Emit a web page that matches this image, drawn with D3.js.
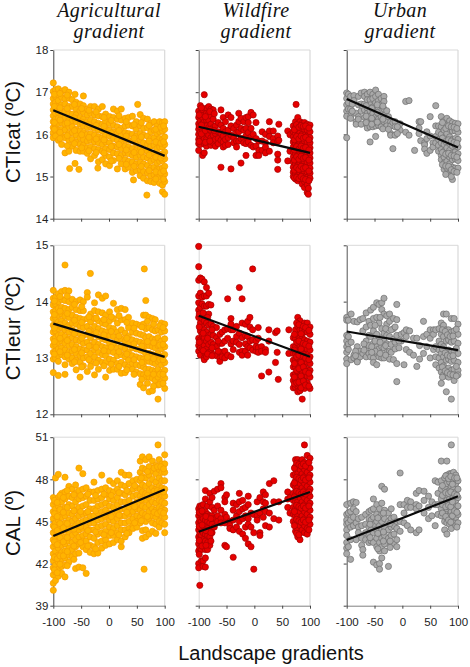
<!DOCTYPE html>
<html><head><meta charset="utf-8">
<script src="https://cdn.jsdelivr.net/npm/d3@7"></script>
<style>html,body{margin:0;padding:0;background:#fff}svg{display:block}</style></head>
<body><svg id="c" width="470" height="667"></svg>
<script>
const gradientNames=[["Agricultural","gradient"],["Wildfire","gradient"],["Urban","gradient"]];
const rowLabels=["CTIcat (ºC)","CTIeur (ºC)","CAL (º)"];
const xTicks=[-100,-50,0,50,100];
const yDomains=[[14,18],[12,15],[39,51]];
const yTicks=[[14,15,16,17,18],[12,13,14,15],[39,42,45,48,51]];
// regression line end values (x=-100, x=100) per row, per column
const fitCat=[[16.57,15.49],[16.18,15.56],[16.84,15.69]];
const fitEur=[[13.61,13.02],[13.75,13.02],[13.47,13.14]];
const fitCal=[[43.96,47.28],[44.27,47.1],[43.68,46.8]];

// points: [x,[y,y,...]]
const agrCat=[[-100,[17.22,17.02,16.85,16.72,16.58,16.44,16.3,16.16,16.04,15.92]],[-96,[17.06,16.9,16.76,16.6,16.5,16.36,16.22,16.08,15.96]],[-91,[17.08,16.94,16.8,16.66,16.52,16.38,16.26,16.1,15.86]],[-85,[17.02,16.88,16.7,16.56,16.42,16.28,16.12,15.96,15.76]],[-79,[17.06,16.84,16.72,16.54,16.4,16.24,16.1,15.92,15.56]],[-72,[17.0,16.86,16.66,16.5,16.34,16.18,16.02,15.86,15.6]],[-66,[16.82,16.66,16.48,16.32,16.18,16.04,15.88,15.72]],[-59,[16.76,16.6,16.46,16.3,16.12,15.98,15.82,15.62]],[-52,[16.72,16.56,16.4,16.24,16.08,15.92,15.76,15.6]],[-46,[16.68,16.52,16.36,16.2,16.04,15.88,15.74,15.6]],[-39,[16.6,16.46,16.3,16.16,16.0,15.84,15.68,15.55]],[-33,[16.66,16.5,16.34,16.18,16.02,15.86,15.7,15.42]],[-26,[16.66,16.46,16.3,16.14,15.98,15.82,15.66,15.5]],[-19,[16.6,16.44,16.26,16.1,15.94,15.8,15.64,15.35]],[-12,[16.66,16.42,16.24,16.08,15.92,15.76,15.6,15.4]],[-6,[16.48,16.3,16.14,15.98,15.82,15.66,15.5,15.3]],[1,[16.42,16.26,16.1,15.96,15.8,15.64,15.46,15.26]],[8,[16.6,16.4,16.22,16.06,15.9,15.72,15.56,15.38]],[15,[16.55,16.36,16.18,16.02,15.86,15.7,15.54,15.18]],[22,[16.6,16.34,16.14,15.98,15.82,15.66,15.5,15.3]],[29,[16.38,16.2,16.04,15.88,15.72,15.56,15.4,15.18]],[35,[16.4,16.22,16.02,15.86,15.7,15.54,15.36,15.22]],[42,[16.43,16.2,16.0,15.84,15.66,15.5,15.34,15.1]],[49,[16.3,16.12,15.96,15.78,15.62,15.46,15.3,15.14]],[56,[16.47,16.2,16.02,15.86,15.68,15.5,15.34,15.16,15.02]],[62,[16.38,16.14,15.98,15.8,15.62,15.46,15.3,15.12,14.96]],[69,[16.36,16.16,15.96,15.76,15.6,15.44,15.26,15.08,14.9]],[75,[16.26,16.06,15.9,15.72,15.54,15.36,15.2,15.02,14.88]],[81,[16.3,16.1,15.92,15.74,15.56,15.4,15.22,15.04,14.86]],[86,[16.2,16.02,15.84,15.66,15.5,15.32,15.16,14.98]],[91,[16.3,16.06,15.9,15.7,15.52,15.36,15.18,15.0,14.84]],[96,[16.28,16.08,15.88,15.7,15.54,15.38,15.2,15.04,14.8,14.64]],[100,[16.3,16.12,15.94,15.76,15.58,15.42,15.24,15.06,14.88,14.58]],[-70.6,[15.19]],[-61,[15.31,16.95]],[-54,[15.17]],[-46,[16.91]],[-20,[15.2]],[51.5,[16.71]],[44,[14.92]],[68,[14.56]]];
const agrCatMore=[[-98,[16.95,16.66,16.28,16.12]],[-88,[16.97,16.63,16.34,16.05,15.9]],[-75,[16.93,16.61,16.27,15.97,15.73]],[-62,[16.71,16.39,16.09,15.78]],[-49,[16.61,16.29,15.99,15.68]],[-36,[16.57,16.23,15.93,15.61]],[-23,[16.53,16.21,15.89,15.57]],[-9,[16.4,16.19,15.87,15.56]],[4,[16.33,16.03,15.71,15.37]],[18,[16.44,16.09,15.76,15.43]],[31,[16.3,15.96,15.63,15.29]],[45,[16.23,15.91,15.57,15.24]],[58,[16.28,15.94,15.58,15.24]],[72,[16.21,15.84,15.51,15.14]],[84,[16.12,15.82,15.46,15.11,14.94]],[93,[16.17,15.79,15.44,15.09]],[98,[16.2,15.82,15.5,15.13,14.94]]];

const agrEur=[[-100,[14.2,14.06,13.94,13.82,13.7,13.58,13.46,13.34,13.22,13.1,12.98,12.74]],[-96,[14.08,13.96,13.84,13.72,13.6,13.48,13.36,13.24,13.12,13.0]],[-91,[14.14,14.0,13.88,13.76,13.64,13.52,13.4,13.28,13.16,13.04,12.94,12.69]],[-85,[14.18,14.04,13.9,13.78,13.66,13.54,13.42,13.3,13.18,13.06]],[-79,[14.2,14.02,13.88,13.74,13.62,13.5,13.38,13.26,13.14,13.02,12.88,12.71]],[-72,[14.19,14.0,13.86,13.72,13.58,13.46,13.34,13.22,13.1,12.98]],[-66,[14.04,13.9,13.76,13.62,13.5,13.36,13.24,13.12,13.0,12.9]],[-59,[14.0,13.86,13.72,13.6,13.46,13.32,13.2,13.08,12.96,12.79]],[-52,[14.03,13.84,13.7,13.56,13.42,13.3,13.16,13.04,12.92,12.66]],[-46,[14.0,13.84,13.68,13.54,13.4,13.26,13.14,13.0,12.86]],[-39,[14.16,14.08,13.7,13.56,13.42,13.28,13.14,13.02,12.76]],[-33,[13.78,13.64,13.5,13.36,13.22,13.08,12.94,12.85]],[-26,[13.98,13.84,13.7,13.56,13.42,13.28,13.14,13.02,12.7]],[-19,[14.12,13.82,13.66,13.52,13.38,13.24,13.1,12.96,12.8]],[-12,[14.06,13.8,13.62,13.48,13.34,13.2,13.06,12.92]],[-6,[14.1,13.76,13.6,13.46,13.32,13.18,13.04,12.92,12.66]],[1,[13.82,13.66,13.54,13.4,13.26,13.12,12.98,12.78]],[8,[13.97,13.7,13.52,13.38,13.24,13.1,12.96,12.8]],[15,[13.86,13.62,13.46,13.32,13.18,13.04,12.9,12.8]],[22,[13.88,13.68,13.5,13.34,13.2,13.06,12.92,12.73]],[29,[13.86,13.68,13.44,13.3,13.16,13.02,12.88,12.74]],[35,[13.72,13.54,13.38,13.24,13.1,12.96,12.84]],[42,[13.62,13.46,13.32,13.18,13.04,12.9,12.8]],[49,[13.6,13.44,13.3,13.16,13.02,12.88,12.75]],[56,[13.58,13.42,13.28,13.14,13.0,12.86,12.72,12.53]],[62,[13.76,13.6,13.4,13.26,13.12,12.98,12.84,12.7,12.47]],[66,[14.02,13.76,13.52,13.36,13.22,13.08,12.94,12.8,12.66]],[72,[13.72,13.54,13.38,13.22,13.08,12.94,12.8,12.66,12.4]],[78,[13.7,13.5,13.34,13.2,13.06,12.92,12.78,12.64,12.42]],[83,[13.68,13.48,13.32,13.18,13.04,12.9,12.76,12.6]],[88,[13.5,13.36,13.22,13.08,12.94,12.8,12.66,12.52,12.27]],[94,[13.62,13.46,13.3,13.16,13.02,12.88,12.74,12.58]],[100,[13.6,13.48,13.34,13.2,13.06,12.92,12.78,12.64,12.46]],[-79,[14.65]],[-33.5,[14.5]],[63.4,[14.58]]];
const agrEurMore=[[-98,[14.01,13.77,13.53,13.29,13.07]],[-88,[14.09,13.83,13.59,13.35,13.11]],[-75,[14.1,13.79,13.55,13.31,13.05]],[-62,[13.95,13.67,13.43,13.15,12.93]],[-49,[13.91,13.63,13.35,13.09,12.84]],[-36,[13.73,13.47,13.21,12.97]],[-23,[13.71,13.45,13.19,12.91]],[-9,[13.68,13.41,13.13,12.86]],[4,[13.73,13.47,13.19,12.89]],[18,[13.75,13.39,13.11,12.85]],[32,[13.63,13.35,13.07,12.79]],[45,[13.53,13.25,12.97,12.71]],[59,[13.55,13.21,12.92,12.62]],[69,[13.65,13.29,13.01,12.73,12.55]],[80,[13.6,13.27,12.99,12.71,12.5]],[91,[13.57,13.23,12.97,12.71,12.53]],[97,[13.54,13.24,12.97,12.71,12.55]]];

const agrCal=[[-100,[46.7,46.2,45.7,45.2,44.7,44.2,43.7,43.2,42.7,42.2,41.7,41.2,40.6,40.1]],[-96,[46.4,45.9,45.4,44.9,44.4,43.9,43.4,42.9,42.4,41.9,41.4,40.8,48.1]],[-91,[46.7,46.1,45.6,45.1,44.6,44.1,43.6,43.1,42.6,42.1,41.6,41.1,48.35]],[-85,[47.0,46.4,45.8,45.3,44.8,44.3,43.8,43.3,42.8,42.3,41.8,41.3]],[-79,[47.1,46.6,46.0,45.4,44.9,44.4,43.9,43.4,42.9,42.4,41.9,41.05,48.15]],[-72,[47.5,46.8,46.2,45.6,45.1,44.6,44.1,43.6,43.1,42.6,42.1]],[-66,[47.3,46.7,46.1,45.5,45.0,44.5,44.0,43.5,43.0,42.5]],[-60,[47.6,47.0,46.4,45.8,45.2,44.7,44.2,43.7,43.2,42.7,41.65]],[-54,[47.2,46.6,46.0,45.4,44.9,44.4,43.9,43.4,42.75,41.75,48.8]],[-47,[47.3,46.7,46.1,45.5,45.0,44.5,44.0,43.6,43.2,41.7,48.4]],[-41,[47.4,46.8,46.2,45.6,45.1,44.6,44.1,43.6,43.0,41.3]],[-34,[47.1,46.5,45.9,45.4,44.9,44.4,43.9,43.3,42.8]],[-27,[47.8,47.1,46.5,45.9,45.4,44.9,44.4,43.8,43.2,42.7]],[-20,[47.2,46.6,46.1,45.6,45.1,44.6,44.1,43.5,42.75]],[-13,[48.3,47.3,46.7,46.2,45.7,45.2,44.7,44.2,43.6,43.1]],[-6,[47.4,46.9,46.3,45.8,45.3,44.8,44.3,43.7,43.3]],[1,[47.9,47.2,46.6,46.1,45.6,45.1,44.6,44.0,43.4]],[8,[47.7,47.1,46.5,46.0,45.5,45.0,44.5,44.0,43.5]],[15,[47.9,47.3,46.7,46.2,45.7,45.2,44.7,44.2,43.7]],[22,[48.5,47.6,47.0,46.4,45.9,45.4,44.9,44.4,43.2,43.6]],[29,[48.3,47.5,46.9,46.4,45.9,45.4,44.9,44.4,43.9]],[36,[48.3,47.7,47.1,46.5,46.0,45.5,45.0,44.5,44.2]],[43,[47.9,47.3,46.8,46.2,45.7,45.2,44.7,44.5]],[50,[48.0,47.4,46.9,46.4,45.9,45.4,45.0,44.6]],[56,[49.3,48.5,47.9,47.3,46.8,46.3,45.8,45.3,44.9]],[60,[49.6,48.8,48.2,47.6,47.1,46.6,46.1,45.6,45.1,44.35,43.8]],[66,[49.4,48.7,48.1,47.5,47.0,46.5,46.0,45.5,45.0,44.4,43.9]],[72,[49.6,48.9,48.3,47.7,47.2,46.7,46.2,45.7,45.2,44.1]],[78,[49.3,48.6,48.0,47.4,46.9,46.4,45.9,45.4,44.9,44.3]],[84,[49.0,48.4,47.8,47.3,46.8,46.3,45.8,45.3,44.8,44.15]],[90,[49.4,48.7,48.1,47.5,47.0,46.5,46.0,45.5,45.0,44.6]],[95,[49.1,48.5,47.9,47.4,46.9,46.4,45.9,45.4,44.9]],[100,[49.75,49.1,48.5,47.9,47.3,46.8,46.3,45.8,45.3,44.8,44.2]],[63,[41.6]],[88,[50.45]]];
const agrCalMore=[[-98,[46.5,45.55,44.6,43.55,42.45,41.55]],[-93,[46.35,45.35,44.35,43.35,42.35,41.35]],[-88,[46.85,45.85,44.85,43.85,42.55,41.95]],[-82,[46.7,45.65,44.55,43.55,42.55]],[-75,[47.2,46.0,44.85,43.85,42.85,41.85]],[-63,[46.9,45.75,44.45,43.25,42.3]],[-51,[46.85,45.7,44.65,43.5]],[-38,[46.95,45.7,44.35,43.25]],[-24,[46.85,45.75,44.25,43.05]],[-9,[46.95,45.45,44.05]],[4,[46.85,45.35,44.2]],[18,[47.05,45.45,44.05]],[32,[47.2,45.65,44.15]],[46,[47.55,46.05,44.9]],[58,[48.1,46.55,45.05]],[69,[48.55,46.85,45.35]],[81,[48.8,47.15,45.65]],[87,[48.9,47.2,45.55]],[93,[48.9,47.15,45.7]],[98,[48.75,47.1,45.6]]];

const wildCat=[[-100,[16.55,16.4,16.25,16.12,16.0,15.88,15.78,15.62]],[-97,[16.68,16.5,16.32,16.18,16.05,15.92,15.76]],[-93,[16.58,16.4,16.26,16.1,15.96,15.84,15.5]],[-90,[16.94,16.46,16.3,16.16,16.02,15.9,15.78,15.56]],[-86,[16.62,16.5,16.34,16.2,16.04,15.88,15.72]],[-82,[16.66,16.5,16.34,16.16,15.98,15.82]],[-78,[16.6,16.44,16.24,16.08,15.92,15.74]],[-74,[16.58,16.36,16.16,15.98,15.8]],[-70,[16.2,16.02,15.88,15.72]],[-65,[16.28,16.06,15.9,15.78]],[-60,[16.58,16.22,16.02,15.86,15.22]],[-56,[16.4,16.14,15.96,15.82,15.7]],[-52,[16.3,16.06,15.88,15.74]],[-47,[16.46,16.1,15.92,15.76]],[-42,[16.4,16.2,15.98,15.18]],[-37,[16.14,15.92,15.8]],[-32,[16.22,16.04,15.84,15.7]],[-28,[16.5,16.3,16.06,15.84]],[-24,[16.38,16.14,15.9,15.32]],[-19,[16.3,16.1,15.9,15.8]],[-15,[16.4,16.14,15.96,15.78,15.5]],[-11,[16.42,16.28,16.04,15.82]],[-6,[16.52,16.14,15.94,15.74]],[-2,[16.46,16.0,15.7]],[3,[16.28,15.9,15.72,15.5]],[8,[15.84,15.62,15.5]],[14,[16.06,15.84,15.62]],[20,[16.0,15.8,15.7,15.56]],[27,[16.3,16.08,15.95,15.6]],[34,[16.08,15.9,15.8]],[42,[15.96,15.83,15.53,15.39,15.17]],[44,[16.24,15.86]],[60,[16.08,15.37]],[64,[15.99,15.6]],[75,[16.71]],[70,[16.2,16.06,15.94,15.82,15.7,15.58,15.46,15.34,15.22,15.1,15.0]],[74,[16.3,16.16,16.02,15.9,15.78,15.66,15.54,15.42,15.3,15.18,15.06,14.94]],[78,[16.4,16.24,16.1,15.98,15.86,15.74,15.62,15.5,15.38,15.26,15.14,15.02,14.9]],[82,[16.3,16.18,16.04,15.92,15.8,15.68,15.56,15.44,15.32,15.2,15.08,14.98]],[86,[16.26,16.14,16.0,15.88,15.76,15.64,15.52,15.4,15.28,15.16,15.04,14.92,14.82]],[90,[16.28,16.12,15.98,15.84,15.72,15.6,15.48,15.36,15.24,15.12,15.0,14.88,14.74]],[95,[16.24,16.1,15.96,15.82,15.7,15.58,15.46,15.34,15.22,15.1,14.98,14.8,14.62]],[100,[16.22,16.06,15.92,15.8,15.68,15.56,15.44,15.32,15.2,15.08,14.96]],[97,[14.72,14.58]]];
const wildCatMore=[[72,[16.11,15.87,15.63,15.39,15.15,14.97]],[76,[16.23,15.95,15.71,15.47,15.21,14.98]],[80,[16.17,15.89,15.65,15.41,15.17,14.95]],[84,[16.21,15.96,15.72,15.48,15.24,15.0]],[88,[16.19,15.91,15.67,15.43,15.19,14.95]],[92,[16.2,15.93,15.69,15.45,15.21,14.93]],[98,[16.15,15.87,15.63,15.39,15.13,14.9]],[-99,[16.46,16.19,15.83]],[-95,[16.63,16.22,16.01]],[-88,[16.42,16.09,15.81]],[-80,[16.54,16.12,15.84]],[-72,[16.49,16.09]]];

const wildEur=[[-100,[14.98,14.62,14.38,14.1,13.98,13.85,13.72,13.35,13.22,13.12]],[-97,[14.42,14.15,13.9,13.76,13.62,13.48,13.32,13.18,13.05]],[-94,[14.4,14.08,13.96,13.7,13.55,13.42,13.3,13.15]],[-90,[14.35,14.1,13.92,13.66,13.5,13.36,13.22,13.1,13.0,12.97]],[-86,[14.25,14.1,13.92,13.76,13.62,13.46,13.3,13.16,13.02]],[-82,[14.15,13.95,13.78,13.58,13.4,13.24,13.1]],[-78,[13.94,13.6,13.42,13.28,13.12]],[-74,[13.56,13.4,13.24,13.06]],[-68,[13.54,13.36,13.2,13.04]],[-62,[13.42,13.26,13.1,13.0,12.94]],[-58,[13.46,13.26,13.1,13.02]],[-53,[13.5,13.3,13.12,13.0]],[-48,[14.05,13.52,13.35,13.05]],[-42,[13.7,13.6,13.5,13.25,13.02]],[-38,[13.5,13.3,13.15]],[-32,[13.56,13.38,13.28]],[-27,[14.25,13.44,13.24,13.1]],[-22,[14.05,13.62,13.36,13.12,13.05]],[-16,[13.6,13.4,13.25,13.12]],[-12,[13.65,13.38,13.2,13.05]],[-8,[13.72,13.55,13.3,13.18]],[-3,[14.58,13.5,13.32,13.14]],[3,[13.3,13.12,13.2]],[7,[13.54,13.35,13.18,13.1]],[13,[13.2,13.12,12.68]],[20,[13.15,13.1]],[26,[13.5,13.3,12.75]],[38,[13.45,12.92]],[41,[13.48,13.1]],[43,[12.62]],[62,[13.5,13.08]],[70,[13.36,13.2,13.08,12.96,12.84,12.7,12.6,12.47]],[74,[13.5,13.34,13.2,13.08,12.96,12.84,12.72,12.6,12.48]],[78,[13.72,13.56,13.4,13.26,13.12,13.0,12.88,12.76,12.64,12.5,12.4]],[82,[13.66,13.5,13.36,13.22,13.1,12.98,12.86,12.74,12.62,12.5,12.42]],[86,[13.5,13.36,13.24,13.12,13.0,12.88,12.76,12.64,12.52,12.27]],[90,[13.62,13.46,13.32,13.18,13.06,12.94,12.82,12.7,12.58,12.46]],[95,[13.62,13.46,13.3,13.16,13.04,12.92,12.8,12.68,12.56]],[100,[13.55,13.42,13.28,13.14,13.02,12.9,12.78,12.66,12.46]]];
const wildEurMore=[[72,[13.42,13.14,12.9,12.66,12.54]],[76,[13.62,13.28,13.02,12.78,12.56]],[80,[13.59,13.3,13.05,12.81,12.57]],[84,[13.43,13.16,12.92,12.68,12.47]],[88,[13.56,13.26,13.03,12.84,12.59]],[92,[13.54,13.24,13.0,12.76,12.52]],[98,[13.49,13.21,12.97,12.73,12.5]],[-99,[13.78,13.55,13.28]],[-92,[13.8,13.44,13.13]],[-84,[13.72,13.35,13.07]],[-76,[13.5,13.18,13.04]],[-65,[13.3,13.12]]];

const wildCal=[[-100,[45.9,45.4,44.9,44.4,43.9,43.4,42.9,42.0,41.7]],[-98,[46.1,45.6,45.1,44.6,44.1,43.6,43.1,40.45]],[-95,[46.1,45.5,45.0,44.5,44.0,43.5,43.0,42.2]],[-92,[46.2,45.7,45.2,44.7,44.2,43.7,42.2,41.8]],[-88,[47.2,46.6,45.7,45.1,44.6,44.1,43.6,43.0,42.4,41.75]],[-84,[46.1,45.5,45.0,44.5,44.0,43.5,43.0]],[-80,[47.0,46.4,45.4,44.9,44.4,43.9,43.3]],[-76,[46.7,46.0,45.4,44.8,44.2]],[-72,[47.15,45.8,45.2,44.6]],[-66,[47.3,46.1,45.4,45.0]],[-60,[47.7,47.4,45.8,45.2,44.9]],[-53,[46.7,46.4,45.5,44.9,43.3]],[-50,[46.9,45.3,43.2]],[-44,[45.0,44.7,44.5]],[-38,[46.3,45.8,45.1,44.4,42.45]],[-32,[46.2,45.4,44.6]],[-27,[47.0,46.4,45.7,45.0,44.3]],[-21,[46.5,45.9,45.2,44.1]],[-16,[46.0,45.4,44.6,43.8]],[-11,[46.8,46.2,45.2,44.8,43.4]],[-6,[45.6,44.6,43.2]],[-1,[41.6,45.5,44.2]],[5,[46.4,45.4,45.1]],[10,[46.7,45.6,44.2,44.0]],[16,[47.1,46.4,45.9,45.3]],[20,[46.9,46.3,45.7,44.7]],[27,[47.7,45.6,44.6]],[35,[47.9,46.4,45.2]],[44,[46.4,45.1]],[60,[47.1,46.6,46.0]],[64,[46.7,45.6]],[70,[48.3,47.6,47.0,46.5,46.0,45.5,45.0]],[74,[49.4,48.9,48.4,47.9,47.4,46.9,46.4,45.9,45.4,44.9,44.3]],[78,[49.4,48.9,48.4,47.9,47.4,46.9,46.4,45.9,45.4,44.9,44.4,43.9]],[82,[49.2,48.7,48.2,47.7,47.2,46.7,46.2,45.7,45.2,44.7,44.2,43.7]],[86,[49.4,48.9,48.4,47.9,47.4,46.9,46.4,45.9,45.4,44.9,44.4]],[90,[50.45,49.2,48.7,48.2,47.7,47.2,46.7,46.2,45.7,45.2,44.7,44.2]],[95,[49.7,49.0,48.5,48.0,47.5,47.0,46.5,46.0,45.5,45.0,44.5,44.1]],[100,[49.5,48.8,48.3,47.8,47.3,46.8,46.3,45.8,45.3,44.8]]];
const wildCalMore=[[72,[48.8,47.75,46.75,45.7,44.7]],[76,[49.15,48.15,47.15,46.15,45.15,44.15]],[80,[49.05,48.05,47.05,46.05,45.05,44.05]],[84,[48.95,47.95,46.95,45.95,44.95]],[88,[49.1,48.1,47.1,46.1,45.1]],[92,[48.95,47.95,46.95,45.95,44.95]],[98,[49.2,48.1,47.1,46.1,45.1,44.4]],[-99,[45.65,44.65,43.65,42.65]],[-94,[45.75,44.75,43.25]],[-87,[45.35,44.35,43.3]],[-78,[45.2,44.2,43.6]]];

const urbCat=[[-100,[16.98,16.85,16.7,16.55,16.43,15.92]],[-97,[16.95,16.75,16.6]],[-93,[16.9,16.6,16.42,16.38]],[-87,[16.92,16.8]],[-83,[16.5,16.3,16.24]],[-79,[16.9,16.7,16.42,16.36]],[-74,[16.98,16.72,16.55,16.24]],[-68,[17.0,16.9,16.72,16.58,16.4]],[-63,[16.95,16.82,16.62,16.5,16.35,16.22,16.15]],[-58,[17.0,16.82,16.7,16.56,16.42,16.18,15.82]],[-53,[16.95,16.85,16.65,16.5,16.3,16.18]],[-48,[17.05,16.9,16.75,16.58,16.42,16.3,16.2,15.95]],[-43,[16.95,16.8,16.62,16.48,16.36,16.22]],[-38,[16.85,16.7,16.55,16.42,16.28,16.18]],[-33,[16.9,16.78,16.6,16.45,16.3]],[-28,[16.56,16.3,16.2]],[-21,[16.3,16.2,16.02,15.98]],[-17,[16.28,15.66]],[-13,[16.3,16.18,15.98]],[-4,[16.25,16.1]],[6,[16.78,16.05]],[12,[16.8,15.98]],[22,[15.62]],[30,[16.3,16.15,16.02]],[33,[16.3,15.85]],[40,[15.8,15.75,15.65]],[44,[16.06,15.9,15.55]],[50,[16.42,15.96,15.62]],[55,[15.8,15.7]],[60,[16.68,16.2,15.95,15.8]],[65,[16.2,16.05,15.88,15.74,15.6]],[70,[16.42,16.18,16.0,15.8,15.64,15.5,15.4]],[75,[16.32,16.1,15.92,15.76,15.6,15.46,15.32,15.17]],[80,[16.38,16.22,16.02,15.84,15.68,15.52,15.36,15.2]],[85,[16.32,16.12,15.94,15.78,15.62,15.46,15.3,15.08]],[90,[16.28,16.08,15.88,15.72,15.56,15.4,15.22,15.12,14.93]],[95,[16.26,16.08,15.9,15.74,15.58,15.42,15.2]],[100,[16.25,16.05,15.88,15.7,15.54,15.38,15.2]]];
const urbCatMore=[[72,[16.28,15.91,15.57,15.28]],[78,[16.14,15.83,15.53,15.25,15.05]],[83,[16.2,15.87,15.55,15.24]],[88,[16.18,15.84,15.5,15.16,15.0]],[93,[16.17,15.81,15.49,15.12]],[98,[16.14,15.79,15.46,15.1]],[-65,[16.68,16.43,16.28]],[-55,[16.62,16.38,16.24]],[-45,[16.7,16.52,16.29]],[-35,[16.67,16.36,16.13]],[-25,[16.42,16.12]],[-9,[16.18,16.02]],[-90,[16.55,16.72]]];

const urbEur=[[-100,[13.72,13.67,13.4,13.3,13.2,13.1,12.98,12.9]],[-97,[13.67,13.38,13.25,13.15]],[-92,[13.78,13.28,12.97]],[-87,[13.65,13.05,13.0]],[-81,[13.64,13.2,12.95,12.93]],[-76,[13.68,13.12,13.02]],[-71,[13.7,13.48,13.08]],[-65,[13.8,13.55,13.3,13.16,13.02]],[-60,[13.65,13.4,13.22,13.08]],[-57,[13.85,13.58,13.38,13.02]],[-52,[13.9,13.7,13.48,13.26,13.14,13.0,12.92]],[-46,[13.98,13.72,13.42,13.2,13.08,12.88]],[-42,[13.95,13.62,13.32,13.16,13.02]],[-37,[13.98,13.86,13.52,13.36,13.2,13.0]],[-33,[14.06,13.78,13.44,13.3,13.18,13.0]],[-28,[13.75,13.6,13.4,13.25,13.1]],[-23,[13.78,13.65,13.38,13.12,12.98]],[-16,[13.7,13.52,13.33,12.97]],[-10,[13.95,13.68,13.4,12.9,12.58]],[-2,[13.42,13.3]],[3,[13.45,12.88]],[7,[13.5,13.38,13.15]],[13,[13.48,13.1]],[20,[13.35,13.05]],[26,[13.35,12.85]],[31,[13.22,12.98]],[38,[13.65,13.38,13.08]],[44,[13.42,13.2]],[50,[13.5,13.35,13.0]],[56,[13.5,13.42,13.15]],[60,[13.5,13.2,13.02,12.88]],[66,[13.52,13.3,13.14,13.0,12.82]],[70,[13.62,13.42,13.24,13.08,12.92,12.75,12.55]],[74,[13.78,13.58,13.38,13.2,13.02,12.86,12.7]],[79,[13.78,13.5,13.3,13.12,12.96,12.8,12.68,12.4]],[83,[13.5,13.32,13.14,12.98,12.82,12.66]],[88,[13.7,13.46,13.28,13.1,12.94,12.78,12.27]],[93,[13.7,13.48,13.3,13.12,12.96,12.8,12.6]],[100,[13.6,13.42,13.26,13.08,12.92,12.78,12.7]]];
const urbEurMore=[[72,[13.5,13.16,12.84,12.66]],[77,[13.47,13.09,12.77]],[81,[13.41,13.05,12.74]],[86,[13.38,13.03,12.71]],[91,[13.39,13.04,12.7]],[97,[13.51,13.17,12.85,12.68]],[-49,[13.58,13.3,13.12]],[-40,[13.72,13.28,13.08]],[-30,[13.52,13.22,13.05]],[-55,[13.2,13.1]],[-69,[13.25,13.14]],[-84,[13.12,13.04]],[-20,[13.5,13.24,13.1]],[-13,[13.55,13.28,13.16]],[-6,[13.3,13.18]]];

const urbCal=[[-100,[46.2,45.5,45.1,44.8,44.4,44.0,43.5,43.1,42.7]],[-97,[45.6,44.9,43.2]],[-93,[46.3,45.7,45.1,44.6,43.7,42.3]],[-88,[46.4,45.9,45.3,44.7]],[-83,[46.35,45.7,44.9,43.7]],[-79,[45.2,44.6,44.2]],[-73,[45.3,44.7,43.8,43.3]],[-71,[43.0,42.6]],[-66,[45.5,44.8,44.2,43.7]],[-60,[45.7,45.2,44.6,44.0,43.5]],[-56,[45.8,45.1,44.4,43.6]],[-52,[46.6,45.9,45.3,44.8,44.2,43.5,42.1]],[-46,[46.2,45.5,45.0,44.4,43.8,43.2,41.9]],[-41,[45.9,45.3,44.7,44.1,43.5,42.9,42.0,41.6]],[-37,[47.5,46.3,45.5,45.0,44.4,43.8,43.2,42.4]],[-32,[47.3,45.8,45.2,44.6,44.0,43.4,42.9]],[-25,[45.6,45.0,44.4,43.8,41.8]],[-20,[45.9,45.2,44.6,44.0,43.4]],[-15,[45.3,44.7,44.1,43.4]],[-10,[45.0,44.5,43.7,43.2]],[-4,[48.45,46.2,45.0,44.3]],[3,[46.2,45.6,44.9]],[9,[46.5,46.0,44.7]],[15,[46.4,46.0,44.4]],[25,[47.0,46.2,45.9,44.2]],[30,[47.2,46.1,44.4]],[39,[47.15,46.5,45.6]],[47,[46.8,46.0,45.2]],[53,[46.4,45.4]],[59,[47.9,46.2,44.7]],[64,[47.8,47.0,46.2,45.5]],[70,[49.3,47.9,47.3,46.6,45.9,45.4]],[76,[48.1,47.4,46.8,46.2,45.6,45.0,44.4]],[80,[49.3,48.3,47.7,47.1,46.5,45.9,45.3,44.9,44.1]],[85,[48.4,47.8,47.2,46.6,46.0,45.4,44.8]],[88,[50.45,48.4,47.5,46.9,46.3,45.7,45.1,44.5]],[92,[48.5,47.9,47.3,46.7,46.1,45.5,44.9]],[96,[48.3,47.7,47.1,46.5,45.9,45.3,44.7]],[100,[47.9,47.3,46.7,46.1,45.5,44.9]]];
const urbCalMore=[[72,[47.55,46.85,46.2,45.6]],[78,[48.25,47.05,46.05,45.35]],[83,[48.05,47.0,46.15,45.1]],[87,[48.2,47.1,46.05,44.95]],[90,[47.65,46.4,45.4]],[94,[48.1,46.95,45.75]],[98,[48.1,46.85,45.65,44.6]],[-44,[45.25,44.15,43.05]],[-34,[45.6,44.25,43.6]],[-22,[44.85,43.6,43.15]],[-58,[44.8,43.85]]];

const panelData=[[agrCat.concat(agrCatMore),wildCat.concat(wildCatMore),urbCat.concat(urbCatMore)],
 [agrEur.concat(agrEurMore),wildEur.concat(wildEurMore),urbEur.concat(urbEurMore)],
 [agrCal.concat(agrCalMore),wildCal.concat(wildCalMore),urbCal.concat(urbCalMore)]];
const fits=[fitCat,fitEur,fitCal];

const colX=[[53.3,164.7],[198.7,310],[346.7,458]];
const rowY=[[218.7,50],[414.3,245.3],[605.7,437.2]];
const labelY=[132,328,523];
const dotFill=["#ffb300","#e60000","#a9a9a9"];
const dotStroke=["#f59c00","#a50000","#6f6f6f"];
const LIGHT="#d9d9d9",DARK="#444",MID="#808080";
const leftColors=[[DARK,"#666",DARK],[DARK,LIGHT,"#555"],[DARK,LIGHT,"#555"]];
const bottomColors=[["#666","#666","#666"],["#666","#666","#666"],[MID,MID,MID]];

const svg=d3.select("#c");
const sans="'Liberation Sans',Arial,sans-serif";
const plain=d=>String(d);
rowLabels.forEach((rl,r)=>{
  const y=d3.scaleLinear().domain(yDomains[r]).range(rowY[r]);
  svg.append("text").attr("transform",`translate(20,${labelY[r]}) rotate(-90)`)
    .attr("text-anchor","middle").attr("font-family",sans).attr("font-size",20.5).attr("fill","#111")
    .text(rl);
  gradientNames.forEach((g,c)=>{
    const x=d3.scaleLinear().domain([-100,100]).range(colX[c]);
    const p=svg.append("g");
    p.append("line").attr("x1",x(-100)).attr("x2",x(100)).attr("y1",y.range()[1]).attr("y2",y.range()[1]).attr("stroke",LIGHT).attr("stroke-width",1);
    p.append("line").attr("x1",x(100)).attr("x2",x(100)).attr("y1",y.range()[0]).attr("y2",y.range()[1]).attr("stroke",LIGHT).attr("stroke-width",1.2);
    const ya=d3.axisLeft(y).tickValues(yTicks[r]).tickSize(3).tickSizeOuter(0).tickFormat(c===0?plain:"");
    const yg=p.append("g").attr("transform",`translate(${x(-100)},0)`).call(ya);
    yg.select(".domain").attr("stroke",leftColors[r][c]).attr("stroke-width",1);
    yg.selectAll(".tick line").attr("stroke","#444");
    yg.selectAll("text").attr("font-family",sans).attr("font-size",11.5).attr("fill","#222").attr("x",-5);
    const xa=d3.axisBottom(x).tickValues(xTicks).tickSize(3).tickSizeOuter(0).tickFormat(r===2?plain:"");
    const xg=p.append("g").attr("transform",`translate(0,${y.range()[0]})`).call(xa);
    xg.select(".domain").attr("stroke",bottomColors[r][c]).attr("stroke-width",1);
    xg.selectAll(".tick line").attr("stroke","#444");
    xg.selectAll("text").attr("font-family",sans).attr("font-size",11.5).attr("fill","#222").attr("dy","0.71em").attr("y",12);
    const pts=panelData[r][c].flatMap(([vx,ys])=>ys.map(vy=>[vx,vy]));
    p.append("g").selectAll("circle").data(pts).join("circle")
      .attr("cx",d=>x(d[0])).attr("cy",d=>y(d[1])).attr("r",3.1)
      .attr("fill",dotFill[c]).attr("stroke",dotStroke[c]).attr("stroke-width",.7);
    const fit=fits[r][c];
    p.append("line").attr("x1",x(-100)).attr("x2",x(100)).attr("y1",y(fit[0])).attr("y2",y(fit[1]))
      .attr("stroke","#0a0a0a").attr("stroke-width",2.2);
  });
});
const titleCx=[109,256,400];
gradientNames.forEach((g,c)=>{
  g.forEach((t,i)=>svg.append("text").attr("x",titleCx[c]).attr("y",17+i*20.5)
    .attr("text-anchor","middle").attr("font-family","'Liberation Serif','Times New Roman',serif")
    .attr("font-style","italic").attr("font-size",20).attr("letter-spacing",.4).attr("fill","#111").text(t));
});
svg.append("text").attr("x",271).attr("y",660).attr("text-anchor","middle").attr("font-family",sans)
  .attr("font-size",20).attr("fill","#111").text("Landscape gradients");
</script></body></html>
